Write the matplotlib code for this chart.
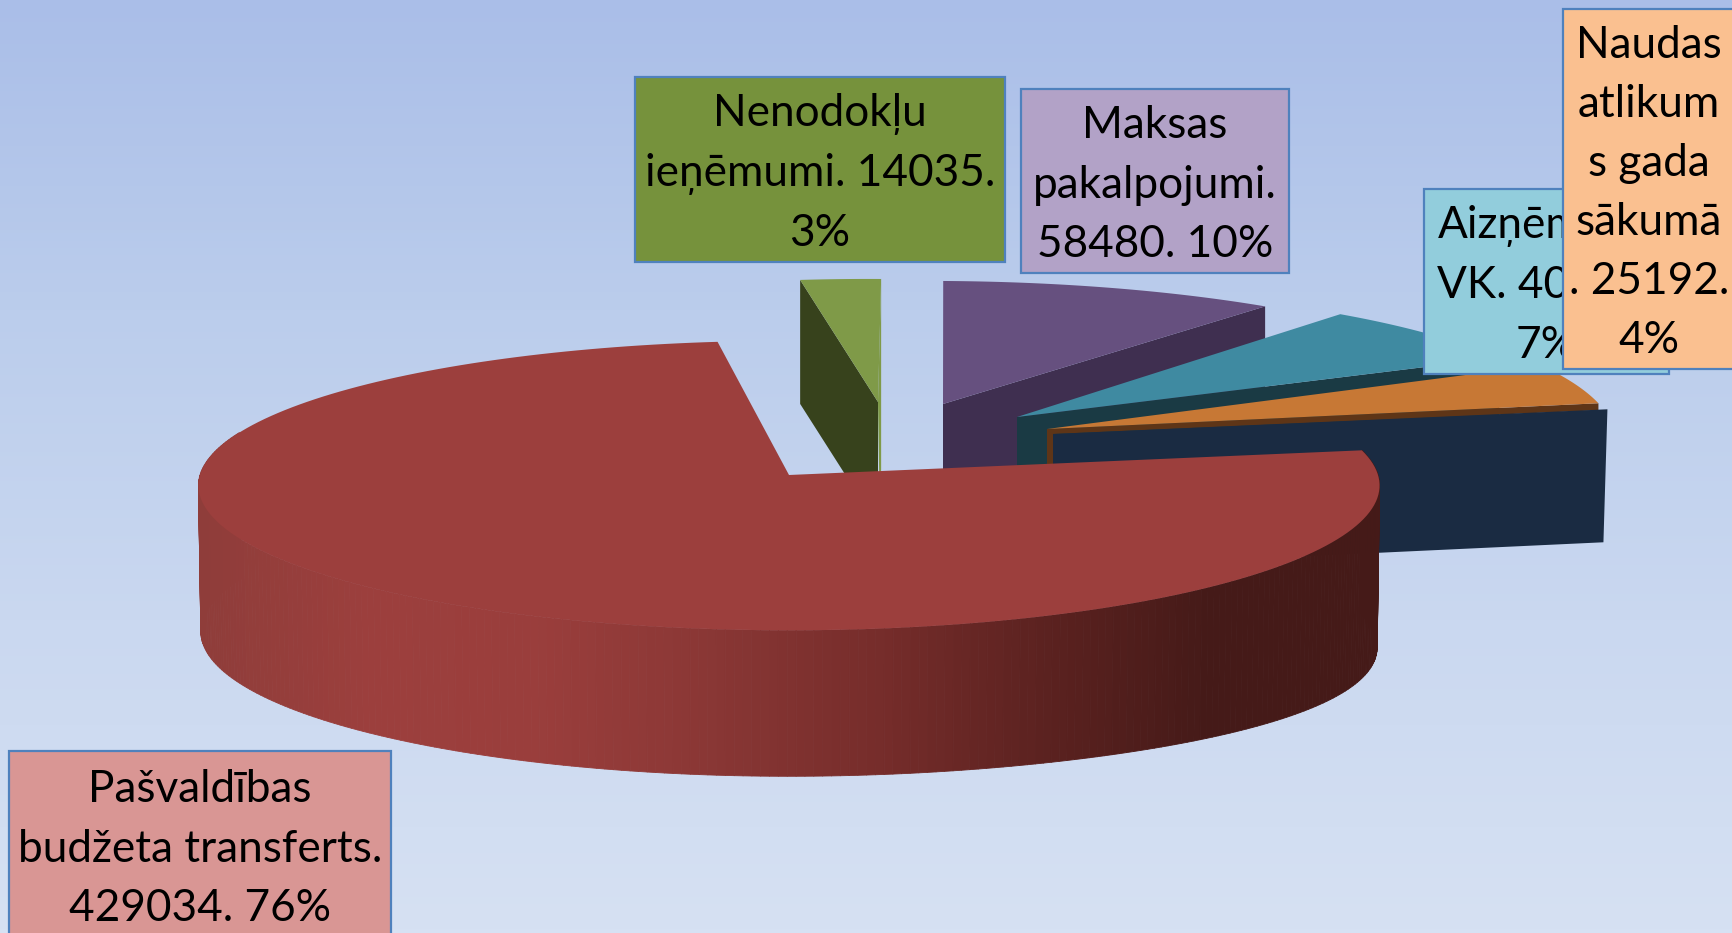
import matplotlib
matplotlib.use("Agg")
import matplotlib.pyplot as plt
from matplotlib.collections import PolyCollection
from matplotlib.colors import LinearSegmentedColormap
import numpy as np

plt.rcParams['font.family'] = ['Lato', 'Open Sans', 'DejaVu Sans']

# Data (the loans value is mostly hidden in the picture, 40xxx)
categories = ["Pašvaldības budžeta transferts", "Nenodokļu ieņēmumi", "Maksas pakalpojumi",
              "Aizņēmumi VK", "Naudas atlikums gada sākumā"]
values = [429034, 14035, 58480, 40000, 25192]
box_texts = ["Pašvaldības\nbudžeta transferts.\n429034. 76%",
             "Nenodokļu\nieņēmumi. 14035.\n3%",
             "Maksas\npakalpojumi.\n58480. 10%",
             "Aizņēmumi\nVK. 40000.\n7%",
             "Naudas\natlikum\ns gada\nsākumā\n. 25192.\n4%"]

# Styles
top_colors = ["#9C3F3D", "#7F9A48", "#66507F", "#3F8AA1", "#C77835"]
side_colors = ["#451A18", "#37421C", "#3F2F50", "#1A3A44", "#5E3517"]
box_colors = ["#D99694", "#76923C", "#B2A2C7", "#92CDDC", "#FAC090"]
navy = "#1A2B42"
box_edge = "#4F81BD"

# Layout in pixels, the exploded slices each have their own apex
apex_x = [789, 878, 943, 1017, 1047]
apex_y = [475, 402, 404, 417, 429]
radius_x = [589, 560, 563, 557, 567]
radius_y = [144, 132, 132, 139, 150]
lean_x = [0, -10, -13, -7, 0]
box_x0 = [9, 635, 1021, 1424, 1563]
box_x1 = [391, 1005, 1289, 1669, 1735]
box_y0 = [751, 77, 89, 189, 9]
box_y1 = [939, 262, 273, 374, 369]
start_angle = 80
perspective = 0.0727
red_depth = 146


def project(theta, i):
    t = np.radians(theta)
    v = np.cos(t)
    x = apex_x[i] + radius_x[i] * np.sin(t) / (1 + perspective * v) + lean_x[i] * v
    y = apex_y[i] - radius_y[i] * v / (1 + perspective * v)
    return x, y


def top_face(i, a0, a1):
    th = np.linspace(a0, a1, 200)
    x, y = project(th, i)
    return np.r_[apex_x[i], x], np.r_[apex_y[i], y]


def cut_face(ax, i, angle, depth_arc, depth_apex, color, z):
    x, y = project(angle, i)
    ax.fill([apex_x[i], x, x, apex_x[i]],
            [apex_y[i], y, y + depth_arc, apex_y[i] + depth_apex], color=color, lw=0, zorder=z)


fig = plt.figure(figsize=(17.33, 9.33), dpi=100)
ax = fig.add_axes([0, 0, 1, 1])
ax.set_xlim(0, 1733)
ax.set_ylim(933, 0)
ax.axis("off")

bg = LinearSegmentedColormap.from_list("bg", ["#AABEE8", "#BBCDEC", "#CAD8F0", "#D6E1F3"])
ax.imshow(np.linspace(0, 1, 256).reshape(-1, 1), cmap=bg, extent=(0, 1733, 933, 0), aspect="auto", zorder=0)

# Slice angles, clockwise from the back of the pie
sweep = np.array(values) / sum(values) * 360
starts = start_angle + np.r_[0, np.cumsum(sweep)[:-1]]
ends = starts + sweep

# green
cut_face(ax, 1, starts[1], 124, 124, side_colors[1], 2)
gx, gy = project(ends[1], 1)
ax.fill([gx, apex_x[1], apex_x[1] + 2, gx], [gy, apex_y[1], apex_y[1] + 124, gy + 190],
        color=top_colors[1], lw=0, zorder=2)
x, y = top_face(1, starts[1], ends[1])
ax.fill(x, y, color=top_colors[1], lw=0, zorder=3)

# purple
cut_face(ax, 2, ends[2], 90, 90, side_colors[2], 4)
x, y = top_face(2, starts[2], ends[2])
ax.fill(x, y, color=top_colors[2], lw=0, zorder=5)

# teal
cut_face(ax, 3, ends[3], 70, 70, side_colors[3], 6)
x, y = top_face(3, starts[3], ends[3])
ax.fill(x, y, color=top_colors[3], lw=0, zorder=7)

# orange, with the thin brown edge and the big dark face below it
ox, oy = project(ends[4], 4)
ax.fill([apex_x[4], ox, ox, apex_x[4] + 6, apex_x[4] + 6, apex_x[4]],
        [apex_y[4], oy, oy + 7, apex_y[4] + 5, apex_y[4] + 60, apex_y[4] + 60],
        color=side_colors[4], lw=0, zorder=8)
x, y = top_face(4, starts[4], ends[4])
ax.fill(x, y, color=top_colors[4], lw=0, zorder=9)
ax.fill([apex_x[4] + 6, ox + 9, ox + 5, apex_x[4] + 6],
        [apex_y[4] + 5, oy + 6, oy + 139, apex_y[4] + 139], color=navy, lw=0, zorder=10)

# red wall, shaded left to right, it gets a bit deeper towards the right side
wall = np.linspace(ends[0] - 65, starts[0], 260)
wx, wy = project(wall, 0)
u = np.sin(np.radians(wall))
wd = red_depth + 16 * np.clip(u, 0, 1) ** 3
bx = apex_x[0] + (wx - apex_x[0]) * 0.996
shade = LinearSegmentedColormap.from_list(
    "shade", ["#8F3D3A", "#9C3F3D", "#9A3E3C", "#8A3735", "#772D2B", "#5C2220", "#451A18", "#451A18"])
pos = (wx - wx.min()) / (wx.max() - wx.min())
quads = [[(wx[k], wy[k]), (wx[k + 1], wy[k + 1]), (bx[k + 1], wy[k + 1] + wd[k + 1]), (bx[k], wy[k] + wd[k])]
         for k in range(len(wx) - 1)]
cols = shade((pos[:-1] + pos[1:]) / 2)
ax.add_collection(PolyCollection(quads, facecolors=cols, edgecolors=cols, linewidths=0.6, zorder=11))
x, y = top_face(0, starts[0], ends[0])
ax.fill(x, y, color=top_colors[0], lw=0, zorder=12)

# label boxes, orange sits over the teal one
for i in [1, 2, 3, 4, 0]:
    z = 20 + i
    ax.fill([box_x0[i], box_x1[i], box_x1[i], box_x0[i]], [box_y0[i], box_y0[i], box_y1[i], box_y1[i]],
            facecolor=box_colors[i], edgecolor=box_edge, lw=1.6, zorder=z)
    ax.text((box_x0[i] + box_x1[i]) / 2, (box_y0[i] + box_y1[i]) / 2 + 4, box_texts[i], ha="center", va="center",
            fontsize=31.8, linespacing=1.55, color="black", zorder=z)

fig.savefig("out.png", dpi=100)
